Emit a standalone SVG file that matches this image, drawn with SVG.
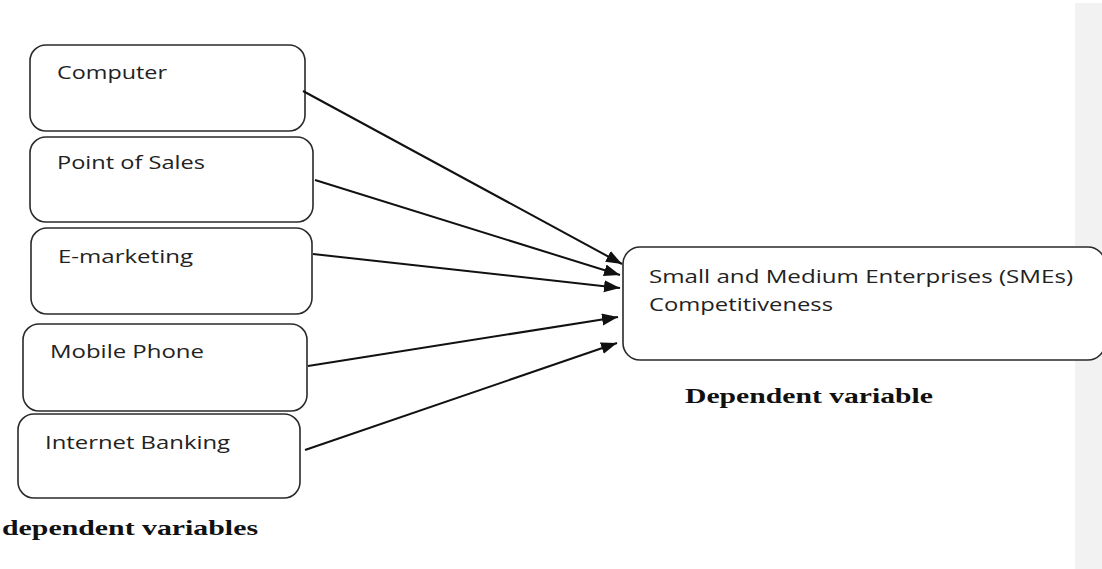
<svg xmlns="http://www.w3.org/2000/svg" width="1102" height="569" viewBox="0 0 1102 569">
<style>
.box{fill:#fff;stroke:#2a2a2a;stroke-width:1.6}
.lbl{font-family:"Open Sans","Liberation Sans",sans-serif;font-size:18.5px;fill:#222}
.cap{font-family:"Liberation Serif","Times New Roman",serif;font-weight:bold;font-size:22px;fill:#111}
.con{stroke:#111;stroke-width:2;fill:none}
</style>
<defs>
<marker id="ah" markerUnits="userSpaceOnUse" markerWidth="18" markerHeight="14" refX="16" refY="6" orient="auto">
<path d="M0,0 L16,6 L0,12 Z" fill="#111"/>
</marker>
</defs>
<rect x="0" y="0" width="1102" height="569" fill="#fff"/>
<rect x="1075" y="3" width="27" height="566" fill="#f2f2f2"/>
<g id="n-target">
<rect class="box" x="623" y="247" width="482" height="113" rx="17"/>
<text class="lbl" x="649" y="283" textLength="424" lengthAdjust="spacingAndGlyphs">Small and Medium Enterprises (SMEs)</text>
<text class="lbl" x="649" y="311" textLength="184" lengthAdjust="spacingAndGlyphs">Competitiveness</text>
</g>
<g id="n-computer">
<rect class="box" x="30" y="45" width="275" height="86" rx="16"/>
<text class="lbl" x="57" y="79" textLength="110" lengthAdjust="spacingAndGlyphs">Computer</text>
</g>
<g id="n-pos">
<rect class="box" x="30" y="137" width="283" height="85" rx="16"/>
<text class="lbl" x="57" y="169" textLength="148" lengthAdjust="spacingAndGlyphs">Point of Sales</text>
</g>
<g id="n-emarketing">
<rect class="box" x="31" y="228" width="281" height="86" rx="16"/>
<text class="lbl" x="58" y="263" textLength="135" lengthAdjust="spacingAndGlyphs">E-marketing</text>
</g>
<g id="n-mobile">
<rect class="box" x="23" y="324" width="284" height="87" rx="16"/>
<text class="lbl" x="50" y="358" textLength="154" lengthAdjust="spacingAndGlyphs">Mobile Phone</text>
</g>
<g id="n-banking">
<rect class="box" x="18" y="414" width="282" height="84" rx="16"/>
<text class="lbl" x="45" y="449" textLength="185" lengthAdjust="spacingAndGlyphs">Internet Banking</text>
</g>
<g id="connectors">
<line class="con" x1="303" y1="91" x2="622" y2="264" marker-end="url(#ah)"/>
<line class="con" x1="315" y1="180" x2="620" y2="275" marker-end="url(#ah)"/>
<line class="con" x1="313" y1="254" x2="620" y2="288" marker-end="url(#ah)"/>
<line class="con" x1="308" y1="366" x2="618" y2="317" marker-end="url(#ah)"/>
<line class="con" x1="305" y1="450" x2="617" y2="343" marker-end="url(#ah)"/>
</g>
<text class="cap" x="685" y="403" textLength="248" lengthAdjust="spacingAndGlyphs">Dependent variable</text>
<text class="cap" x="2" y="535" textLength="256" lengthAdjust="spacingAndGlyphs">dependent variables</text>
</svg>
